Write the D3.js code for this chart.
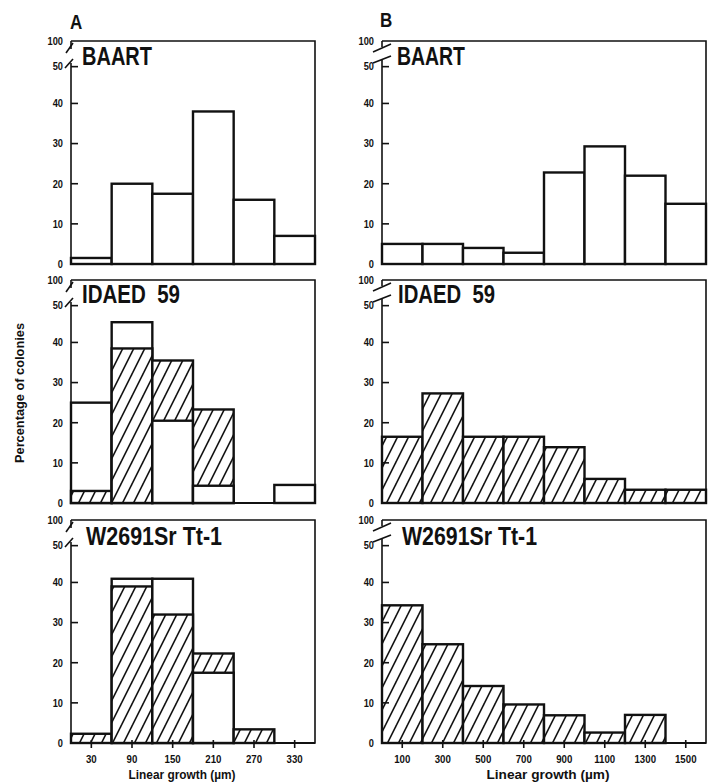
<!DOCTYPE html>
<html>
<head>
<meta charset="utf-8">
<script src="https://cdn.jsdelivr.net/npm/d3@7"></script>
<style>
  html, body { margin: 0; padding: 0; background: #fff; }
  svg { display: block; }
  text { font-family: "Liberation Sans", Arial, "DejaVu Sans", sans-serif; font-weight: bold; fill: #111; }
</style>
</head>
<body>
<svg id="chart" width="713" height="783"></svg>
<script>
// ---------- DATA ----------
const binCentersA = [30, 90, 150, 210, 270, 330];          // Linear growth (µm), bin width 60
const binCentersB = [100, 300, 500, 700, 900, 1100, 1300, 1500]; // bin width 200
const yTickValues = [0, 10, 20, 30, 40, 50, 100];

const strains = ["BAART", "IDAED  59", "W2691Sr Tt-1"];

// Column A
const A_BAART_open      = [1.5, 20, 17.5, 38, 16, 7];
const A_IDAED_hatched   = [3, 38.5, 35.5, 23.3, 0, 0];
const A_IDAED_open      = [25, 45.5, 20.5, 4.3, 0, 4.5];
const A_W2691_hatched   = [2.3, 39, 32, 22.3, 3.4, 0];
const A_W2691_open      = [0, 41, 41, 17.5, 0, 0];

// Column B
const B_BAART_open      = [5, 5, 4, 2.8, 22.8, 29.3, 22, 15];
const B_IDAED_hatched   = [16.5, 27.3, 16.5, 16.5, 13.9, 6, 3.3, 3.3];
const B_W2691_hatched   = [34.3, 24.6, 14.2, 9.6, 6.9, 2.6, 7, 0];

// ---------- LAYOUT ----------
const svg = d3.select("#chart");
const ink = "#111";

// condensed text helper (horizontal squeeze)
function ctext(parent, x, y, str, size, anchor, ratio, dy) {
  return parent.append("text")
    .attr("transform", `translate(${x},${y}) scale(${ratio},1)`)
    .attr("text-anchor", anchor || "start")
    .attr("dy", dy || null)
    .attr("font-size", size)
    .text(str);
}

const defs = svg.append("defs");
const pat = defs.append("pattern")
  .attr("id", "hatch").attr("patternUnits", "userSpaceOnUse")
  .attr("width", 11).attr("height", 22);
pat.append("rect").attr("width", 11).attr("height", 22).attr("fill", "#fff");
[[-11, 22, 11, -22], [0, 22, 11, 0], [0, 44, 22, 0]].forEach(d => {
  pat.append("line").attr("x1", d[0]).attr("y1", d[1]).attr("x2", d[2]).attr("y2", d[3])
    .attr("stroke", ink).attr("stroke-width", 1.6);
});

const columns = [
  { key: "A", x0: 71, x1: 315, domain: [0, 360], width: 60, centers: binCentersA, breakStyle: "A",
    series: [
      { open: A_BAART_open, hatched: null },
      { open: A_IDAED_open, hatched: A_IDAED_hatched },
      { open: A_W2691_open, hatched: A_W2691_hatched }
    ],
    titleX: [82, 82, 86], titleW: [70, 98, 136], labelX: 182, labelSize: 12, labelW: 107 },
  { key: "B", x0: 382, x1: 706, domain: [0, 1600], width: 200, centers: binCentersB, breakStyle: "B",
    series: [
      { open: B_BAART_open, hatched: null },
      { open: null, hatched: B_IDAED_hatched },
      { open: null, hatched: B_W2691_hatched }
    ],
    titleX: [397, 398, 402], titleW: [68, 97, 135], labelX: 548, labelSize: 13.5, labelW: 123 }
];

const rows = [
  { top: 41, bottom: 264 },
  { top: 280, bottom: 503 },
  { top: 520, bottom: 743 }
];
const titleY = [65, 303, 545];

// Column letters
ctext(svg, 70, 29, "A", 20, "start", 0.85);
ctext(svg, 380, 27, "B", 20, "start", 0.85);

// Y axis label
svg.append("text")
  .attr("transform", "translate(24,393) rotate(-90)")
  .attr("text-anchor", "middle").attr("font-size", 12.5)
  .attr("textLength", 140).attr("lengthAdjust", "spacingAndGlyphs")
  .text("Percentage of colonies");

columns.forEach(col => {
  const x = d3.scaleLinear().domain(col.domain).range([col.x0, col.x1]);
  rows.forEach((row, ri) => {
    const h = row.bottom - row.top;
    const y = d3.scaleLinear().domain([0, 40, 50, 100])
      .range([row.bottom, row.bottom - 0.72 * h, row.top + 0.115 * h, row.top]);
    const g = svg.append("g");
    const s = col.series[ri];

    // bars: larger value drawn first, smaller overlaid
    col.centers.forEach((c, i) => {
      const layers = [];
      if (s.open && s.open[i] > 0) layers.push({ v: s.open[i], fill: "#fff" });
      if (s.hatched && s.hatched[i] > 0) layers.push({ v: s.hatched[i], fill: "url(#hatch)" });
      layers.sort((a, b) => b.v - a.v);
      layers.forEach(l => {
        g.append("rect")
          .attr("x", x(c - col.width / 2)).attr("width", x(c + col.width / 2) - x(c - col.width / 2))
          .attr("y", y(l.v)).attr("height", y(0) - y(l.v))
          .attr("fill", l.fill).attr("stroke", ink).attr("stroke-width", 2.4);
      });
    });

    // frame: top, right, bottom
    g.append("path")
      .attr("d", `M${col.x0},${row.top}H${col.x1}V${row.bottom}H${col.x0}`)
      .attr("fill", "none").attr("stroke", ink).attr("stroke-width", 1.6);
    g.append("line").attr("x1", col.x0).attr("x2", col.x1).attr("y1", row.bottom).attr("y2", row.bottom)
      .attr("stroke", ink).attr("stroke-width", 2.2);

    // left axis with break
    const ax = col.x0;
    const seg = (x1, y1, x2, y2) => g.append("line")
      .attr("x1", x1).attr("y1", y1).attr("x2", x2).attr("y2", y2)
      .attr("stroke", ink).attr("stroke-width", 1.6);
    if (col.breakStyle === "A") {
      seg(ax, row.top, ax, row.top + 8);
      seg(ax, row.top + 22, ax, row.bottom);
      seg(ax - 5, row.top + 12, ax + 2, row.top + 2);
      seg(ax - 6, row.top + 27, ax + 2, row.top + 18);
    } else {
      seg(ax, row.top, ax, row.top + 6);
      seg(ax, row.top + 18, ax, row.bottom);
      seg(ax - 9, row.top + 11, ax + 9, row.top + 3);
      seg(ax - 9, row.top + 22, ax + 9, row.top + 15);
    }

    // y ticks + labels
    yTickValues.forEach(t => {
      if (t > 0 && t <= 50) seg(ax, y(t), ax + 7, y(t));
      ctext(g, ax - 8, y(t), String(t), 10.5, "end", 0.88, "0.36em");
    });

    // panel title
    g.append("text").attr("x", col.titleX[ri]).attr("y", titleY[ri]).attr("font-size", 25)
      .attr("textLength", col.titleW[ri]).attr("lengthAdjust", "spacingAndGlyphs")
      .style("white-space", "pre")
      .text(strains[ri]);

    // x axis (bottom row only)
    if (ri === rows.length - 1) {
      col.centers.forEach(c => {
        seg(x(c), row.bottom - 3, x(c), row.bottom + 5);
        ctext(g, x(c), row.bottom + 20, String(c), 11, "middle", 0.88);
      });
      g.append("text").attr("x", col.labelX).attr("y", 779)
        .attr("text-anchor", "middle").attr("font-size", col.labelSize)
        .attr("textLength", col.labelW).attr("lengthAdjust", "spacingAndGlyphs")
        .text("Linear growth (µm)");
    }
  });
});
</script>
</body>
</html>
